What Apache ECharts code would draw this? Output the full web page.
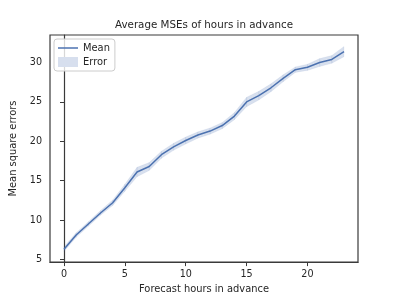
<!DOCTYPE html>
<html>
<head>
<meta charset="utf-8">
<script src="https://cdn.jsdelivr.net/npm/echarts@6/dist/echarts.min.js"></script>
<style>
html,body{margin:0;padding:0;background:#fff;}
#chart{width:399px;height:299px;}
</style>
</head>
<body>
<div id="chart"></div>
<script>
const hours = [0,1,2,3,4,5,6,7,8,9,10,11,12,13,14,15,16,17,18,19,20,21,22,23];
const meanMSE = [6.3,8.1,9.5,10.9,12.2,14.1,16.1,16.8,18.3,19.3,20.1,20.8,21.3,22.0,23.2,25.0,25.8,26.8,28.0,29.1,29.4,30.0,30.4,31.4];
const lowerMSE = [6.0,7.8,9.2,10.6,11.85,13.65,15.5,16.3,17.85,18.85,19.65,20.4,20.9,21.6,22.75,24.4,25.25,26.3,27.55,28.75,29.0,29.5,29.9,30.75];
const upperMSE = [6.6,8.4,9.8,11.2,12.55,14.55,16.7,17.3,18.75,19.75,20.55,21.2,21.7,22.4,23.65,25.6,26.35,27.3,28.45,29.45,29.8,30.5,30.9,32.05];
const xTicks = [0,5,10,15,20];
const yTicks = [5,10,15,20,25,30];

const FONT = 'DejaVu Sans';
const TXT = '#262626';
const AX = '#3a3a3a';
const BAND = 'rgba(76,114,176,0.22)';

const bandData = [];
for (let i = 0; i < hours.length - 1; i++) {
  bandData.push([hours[i], lowerMSE[i], upperMSE[i], hours[i+1], lowerMSE[i+1], upperMSE[i+1]]);
}

const chart = echarts.init(document.getElementById('chart'), null, {renderer:'canvas'});
chart.setOption({
  animation:false,
  backgroundColor:'#fff',
  title:{
    text:'Average MSEs of hours in advance',
    left:204, top:20, textAlign:'center', padding:0,
    textStyle:{fontFamily:FONT, fontSize:10.3, fontWeight:'normal', color:TXT}
  },
  legend:{
    orient:'vertical', left:54, top:39,
    padding:[4,5,4,4], itemGap:4, itemWidth:20, itemHeight:10,
    borderColor:'#cccccc', borderWidth:1, borderRadius:3,
    backgroundColor:'rgba(255,255,255,0.8)',
    textStyle:{fontFamily:FONT, fontSize:9.9, color:TXT},
    selectedMode:false,
    data:[
      {name:'Mean', icon:'path://M0,0H20V1.5H0Z', itemStyle:{color:'#4c72b0', borderWidth:0, borderColor:'transparent'}, lineStyle:{width:0, opacity:0}},
      {name:'Error', icon:'path://M0,0H20V10H0Z', itemStyle:{color:'#d7dfee', borderWidth:0, borderColor:'transparent'}, lineStyle:{width:0, opacity:0}}
    ]
  },
  grid:{left:50, right:41, top:35, bottom:33, show:true, borderColor:AX, borderWidth:1.2, backgroundColor:'transparent'},
  xAxis:{
    type:'value', min:-1.15, max:24.15,
    name:'Forecast hours in advance', nameLocation:'middle', nameGap:18,
    nameTextStyle:{fontFamily:FONT, fontSize:9.9, color:TXT},
    axisLine:{show:true, lineStyle:{color:AX, width:1.2}},
    axisTick:{show:true, length:4, lineStyle:{color:AX, width:1}, customValues:xTicks},
    axisLabel:{fontFamily:FONT, fontSize:9.6, color:TXT, margin:7, customValues:xTicks},
    splitLine:{show:false}
  },
  yAxis:{
    type:'value', min:4.66, max:33.5,
    name:'Mean square errors', nameLocation:'middle', nameGap:24, nameRotate:90,
    nameTextStyle:{fontFamily:FONT, fontSize:9.9, color:TXT},
    axisLine:{show:true, lineStyle:{color:AX, width:1.2}},
    axisTick:{show:true, length:4, lineStyle:{color:AX, width:1}, customValues:yTicks},
    axisLabel:{fontFamily:FONT, fontSize:9.6, color:TXT, margin:8, customValues:yTicks},
    splitLine:{show:false}
  },
  series:[
    {
      name:'Error', type:'custom', silent:true, z:1,
      itemStyle:{color:BAND, borderWidth:0},
      data:bandData,
      encode:{x:[0,3], y:[1,2,4,5]},
      renderItem:function(params, api){
        const a = api.coord([api.value(0), api.value(1)]);
        const b = api.coord([api.value(3), api.value(4)]);
        const c = api.coord([api.value(3), api.value(5)]);
        const d = api.coord([api.value(0), api.value(2)]);
        return {
          type:'polygon',
          shape:{points:[a,b,c,d]},
          style:{fill:BAND, stroke:BAND, lineWidth:0.3}
        };
      },
      clip:true
    },
    {
      name:'Mean', type:'line',
      data:hours.map((h,i)=>[h, meanMSE[i]]),
      symbol:'none', lineStyle:{color:'#4c72b0', width:1.5},
      itemStyle:{color:'#4c72b0'}, z:3
    }
  ]
});
</script>
</body>
</html>
